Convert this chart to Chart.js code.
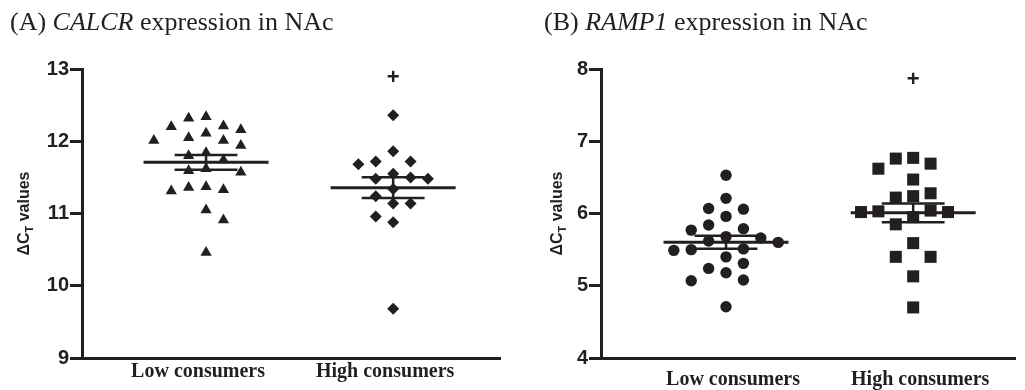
<!DOCTYPE html>
<html>
<head>
<meta charset="utf-8">
<script src="https://cdn.jsdelivr.net/npm/chart.js@4.4.0/dist/chart.umd.min.js"></script>
<style>
  body { margin: 0; background: #fff; }
  #wrap { position: relative; width: 1025px; height: 390px; }
  #a { position: absolute; left: 0; top: 0; }
  #b { position: absolute; left: 512px; top: 0; }
</style>
</head>
<body>
<div id="wrap">
  <canvas id="a" width="512" height="390"></canvas>
  <canvas id="b" width="513" height="390"></canvas>
</div>
<script>
// values (delta Ct per animal)
var groups = ["Low consumers", "High consumers"];

var calcrLow = [12.34, 12.32, 12.21, 12.20, 12.16, 12.11, 12.05, 12.01, 12.01, 11.94, 11.84, 11.80,
                11.74, 11.59, 11.57, 11.62, 11.36, 11.31, 11.33, 11.37, 11.05, 10.91, 10.46];
var calcrHigh = [12.36, 11.86, 11.72, 11.72, 11.68, 11.55, 11.48, 11.48, 11.50, 11.34, 11.24, 11.14,
                 11.14, 10.96, 10.88, 9.68];
var ramp1Low = [6.53, 6.21, 6.07, 6.06, 5.96, 5.79, 5.77, 5.84, 5.68, 5.66, 5.60, 5.62, 5.50, 5.49,
                5.51, 5.40, 5.24, 5.31, 5.18, 5.08, 5.07, 4.71];
var ramp1High = [6.76, 6.77, 6.62, 6.69, 6.47, 6.28, 6.22, 6.24, 6.04, 6.02, 5.95, 6.02, 6.03, 5.85,
                 5.59, 5.40, 5.40, 5.13, 4.70];

var calcrTicks = [9, 10, 11, 12, 13];
var ramp1Ticks = [4, 5, 6, 7, 8];

// "+" marks over the high consumers
var calcrSig = 12.86;
var ramp1Sig = 7.84;

var ink = '#231f20';
var sans = '"Liberation Sans", Arial, sans-serif';
var serif = '"Liberation Serif", "Times New Roman", serif';

function mean(a) {
  return a.reduce(function (s, v) { return s + v; }, 0) / a.length;
}
function sem(a) {
  var m = mean(a);
  var ss = a.reduce(function (s, v) { return s + (v - m) * (v - m); }, 0);
  return Math.sqrt(ss / (a.length - 1)) / Math.sqrt(a.length);
}

function seg(x1, y1, x2, y2, w) {
  return {
    data: [{x: x1, y: y1}, {x: x2, y: y2}],
    showLine: true, borderColor: ink, borderWidth: w,
    pointRadius: 0, pointHoverRadius: 0, fill: false
  };
}

function meanSem(vals, c) {
  var m = mean(vals), s = sem(vals);
  return [
    seg(c - 0.334, m, c + 0.334, m, 3),
    seg(c - 0.168, m + s, c + 0.168, m + s, 2.5),
    seg(c - 0.168, m - s, c + 0.168, m - s, 2.5),
    seg(c, m - s, c, m + s, 2.5)
  ];
}

function dots(vals, c, style, r) {
  return {
    data: vals.map(function (v) { return {x: c, y: v}; }),
    pointStyle: style, pointRadius: r, pointHoverRadius: r,
    backgroundColor: ink, borderWidth: 0, showLine: false
  };
}

function drawYTitle(ctx, x, yc) {
  ctx.save();
  ctx.translate(x, yc);
  ctx.rotate(-Math.PI / 2);
  var big = 'bold 16px ' + sans, small = 'bold 11px ' + sans;
  ctx.font = big;
  var w1 = ctx.measureText('\u0394C').width;
  var w3 = ctx.measureText(' values').width;
  ctx.font = small;
  var w2 = ctx.measureText('T').width;
  var x0 = -(w1 + w2 + w3) / 2;
  ctx.fillStyle = ink;
  ctx.textBaseline = 'alphabetic';
  ctx.textAlign = 'left';
  ctx.font = big; ctx.fillText('\u0394C', x0, 0);
  ctx.font = small; ctx.fillText('T', x0 + w1, 4);
  ctx.font = big; ctx.fillText(' values', x0 + w1 + w2, 0);
  ctx.restore();
}

function drawTitle(ctx, x, y, pre, gene, post) {
  ctx.save();
  ctx.fillStyle = ink;
  ctx.textBaseline = 'alphabetic';
  ctx.textAlign = 'left';
  ctx.font = '26px ' + serif;
  ctx.fillText(pre, x, y);
  x += ctx.measureText(pre).width;
  ctx.font = 'italic 26px ' + serif;
  ctx.fillText(gene, x, y);
  x += ctx.measureText(gene).width;
  ctx.font = '26px ' + serif;
  ctx.fillText(post, x, y);
  ctx.restore();
}

function makeChart(id, p) {
  var decor = {
    id: 'decor',
    afterDraw: function (chart) {
      var ctx = chart.ctx;
      drawTitle(ctx, p.titleX, 30, p.title[0], p.title[1], p.title[2]);
      drawYTitle(ctx, p.yTitleX, 213.5);
      ctx.save();
      ctx.fillStyle = ink;
      ctx.font = 'bold 22px ' + sans;
      ctx.textAlign = 'center';
      ctx.textBaseline = 'middle';
      ctx.fillText('+', chart.scales.x.getPixelForValue(2), chart.scales.y.getPixelForValue(p.sig) - 1);
      ctx.restore();
    }
  };

  var ds = [].concat(meanSem(p.low, 1), meanSem(p.high, 2));
  ds.push(dots(p.low, 1, p.lowStyle, p.lowR));
  ds.push(dots(p.high, 2, p.highStyle, p.highR));

  var chart = new Chart(document.getElementById(id), {
    type: 'scatter',
    data: { datasets: ds },
    options: {
      responsive: false,
      animation: false,
      devicePixelRatio: 1,
      layout: { padding: { left: 0, top: 69, right: p.padRight, bottom: 0 } },
      plugins: { legend: { display: false }, tooltip: { enabled: false } },
      scales: {
        x: {
          type: 'linear', min: p.xMin, max: p.xMax,
          afterBuildTicks: function (s) { s.ticks = [{value: 1}, {value: 2}]; },
          afterFit: function (s) { s.height = 32; },
          grid: { display: false, drawTicks: false },
          border: { display: true, color: ink, width: 3 },
          ticks: {
            color: ink, padding: p.xPad, labelOffset: p.xLabelOffset, maxRotation: 0,
            font: { family: serif, weight: 'bold', size: 20 },
            callback: function (v) { return groups[v - 1]; }
          }
        },
        y: {
          min: p.ticks[0], max: p.ticks[p.ticks.length - 1],
          afterBuildTicks: function (s) { s.ticks = p.ticks.map(function (v) { return {value: v}; }); },
          afterFit: function (s) { s.width = p.axisLeft; },
          grid: { display: true, drawOnChartArea: false, drawTicks: true, tickLength: 12,
                  tickWidth: 3, tickColor: ink },
          border: { display: true, color: ink, width: 3 },
          ticks: { color: ink, padding: 1, font: { family: sans, weight: 'bold', size: 20 } }
        }
      }
    },
    plugins: [decor]
  });

  // beeswarm spread of the dots, GraphPad style
  var xs = chart.scales.x, ys = chart.scales.y;
  var unit = xs.getPixelForValue(2) - xs.getPixelForValue(1);
  var step = 8.7 / unit;
  [ds.length - 2, ds.length - 1].forEach(function (di, g) {
    var pts = chart.data.datasets[di].data;
    var c = g + 1;
    var rowH = p.rowH[g];
    var idx = pts.map(function (q, i) { return i; });
    idx.sort(function (a, b) { return pts[b].y - pts[a].y; });
    var placed = [];
    var bal = 0; // left minus right, to keep the swarm even
    function free(py, k) {
      return !placed.some(function (q) {
        return Math.abs(q.py - py) < rowH && Math.abs(q.k - k) < 2;
      });
    }
    idx.forEach(function (i) {
      var py = ys.getPixelForValue(pts[i].y);
      var k = 0;
      if (!free(py, 0)) {
        for (var d = 1; d < 30; d++) {
          var l = free(py, -d), r = free(py, d);
          if (l && r) { k = bal > 0 ? d : -d; break; }
          if (l) { k = -d; break; }
          if (r) { k = d; break; }
        }
      }
      if (k < 0) bal++;
      if (k > 0) bal--;
      placed.push({py: py, k: k});
      pts[i].x = c + k * step;
    });
  });
  chart.update('none');
  return chart;
}

makeChart('a', {
  low: calcrLow, high: calcrHigh, ticks: calcrTicks, sig: calcrSig,
  lowStyle: 'triangle', lowR: 6.5, highStyle: 'rectRot', highR: 6, rowH: [14, 14],
  title: ['(A) ', 'CALCR', ' expression in NAc'], titleX: 10, yTitleX: 29,
  axisLeft: 82, padRight: 12, xMin: 0.337, xMax: 2.571, xPad: 2, xLabelOffset: -8
});

makeChart('b', {
  low: ramp1Low, high: ramp1High, ticks: ramp1Ticks, sig: ramp1Sig,
  lowStyle: 'circle', lowR: 5.7, highStyle: 'rect', highR: 8.5, rowH: [14, 16],
  title: ['(B) ', 'RAMP1', ' expression in NAc'], titleX: 32, yTitleX: 50,
  axisLeft: 89, padRight: 10, xMin: 0.332, xMax: 2.544, xPad: 10, xLabelOffset: 7
});
</script>
</body>
</html>
